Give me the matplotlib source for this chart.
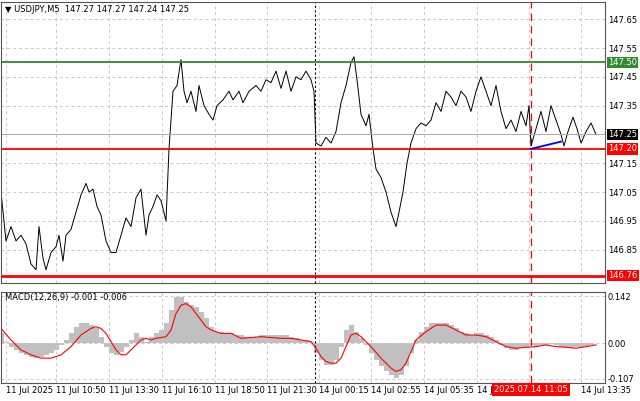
import matplotlib.pyplot as plt
import numpy as np

# x positions in chart pixels (M5 bars, ~1.65 px per bar)
price_x = [0, 5, 10, 15, 20, 25, 30, 35, 38, 42, 45, 50, 55, 58, 62, 65, 70, 75, 80, 85, 88, 92, 96, 100,
           105, 110, 115, 120, 125, 130, 135, 140, 145, 148, 152, 156, 160, 165, 168, 172, 176, 180, 183,
           186, 190, 195, 198, 203, 208, 212, 216, 222, 228, 232, 238, 242, 248, 255, 260, 265, 270, 275,
           280, 285, 290, 295, 300, 305, 310, 313, 315, 320, 325, 330, 335, 340, 345, 350, 353, 356, 360,
           365, 368, 372, 375, 380, 385, 390, 395, 398, 402, 406, 410, 415, 420, 425, 430, 435, 440, 445,
           450, 455, 460, 465, 470, 475, 480, 485, 490, 495, 500, 505, 510, 515, 520, 525, 528, 530, 535,
           540, 545, 550, 555, 560, 563, 567, 572, 576, 580, 585, 590, 595]
price = [147.05, 146.88, 146.93, 146.88, 146.90, 146.87, 146.80, 146.78, 146.93, 146.82, 146.78, 146.84,
         146.86, 146.90, 146.81, 146.90, 146.92, 146.98, 147.04, 147.08, 147.05, 147.06, 147.00, 146.97,
         146.88, 146.84, 146.84, 146.90, 146.96, 146.93, 147.03, 147.06, 146.90, 146.97, 147.00, 147.04,
         147.02, 146.95, 147.20, 147.40, 147.42, 147.51, 147.40, 147.36, 147.40, 147.33, 147.42, 147.35,
         147.32, 147.30, 147.35, 147.37, 147.40, 147.37, 147.40, 147.36, 147.40, 147.42, 147.40, 147.44,
         147.43, 147.47, 147.41, 147.47, 147.40, 147.45, 147.44, 147.47, 147.44, 147.40, 147.22, 147.21,
         147.24, 147.22, 147.26, 147.36, 147.42, 147.50, 147.52, 147.44, 147.32, 147.28, 147.32, 147.20,
         147.13, 147.10, 147.05, 146.98, 146.93, 146.98, 147.05, 147.15, 147.22, 147.27, 147.29, 147.28,
         147.30, 147.36, 147.33, 147.40, 147.38, 147.35, 147.40, 147.38, 147.33, 147.40, 147.45, 147.40,
         147.35, 147.42, 147.33, 147.27, 147.30, 147.26, 147.33, 147.28, 147.35, 147.21, 147.27, 147.33,
         147.26, 147.35, 147.30, 147.25, 147.21, 147.26, 147.31, 147.27, 147.22, 147.26, 147.29, 147.25]

hist_x = list(range(0, 600, 5))
hist = [0.03, 0.005, -0.01, -0.02, -0.03, -0.035, -0.04, -0.045, -0.04, -0.035, -0.03, -0.02, -0.005,
        0.01, 0.03, 0.05, 0.06, 0.06, 0.055, 0.045, 0.02, -0.01, -0.03, -0.035, -0.025, -0.01, 0.01, 0.03,
        0.02, 0.005, 0.02, 0.03, 0.04, 0.06, 0.10, 0.14, 0.14, 0.125, 0.115, 0.11, 0.095, 0.075, 0.05,
        0.035, 0.035, 0.03, 0.03, 0.025, 0.025, 0.02, 0.02, 0.02, 0.025, 0.025, 0.025, 0.025, 0.025, 0.025,
        0.02, 0.015, 0.01, 0.01, 0.005, -0.03, -0.05, -0.065, -0.065, -0.05, -0.01, 0.04, 0.055, 0.035,
        0.015, -0.005, -0.03, -0.05, -0.07, -0.085, -0.095, -0.105, -0.095, -0.07, -0.03, 0.01, 0.035,
        0.05, 0.06, 0.06, 0.06, 0.06, 0.055, 0.045, 0.035, 0.03, 0.025, 0.03, 0.03, 0.025, 0.02, 0.01,
        -0.005, -0.015, -0.02, -0.02, -0.015, -0.01, -0.005, -0.01, -0.005, -0.005, -0.003, -0.005, -0.01,
        -0.01, -0.015, -0.01, -0.01, -0.008, -0.005, 0.0]

signal_x = [0, 10, 20, 30, 40, 50, 60, 70, 80, 90, 95, 100, 105, 110, 115, 120, 125, 130, 140, 145, 150,
            155, 165, 170, 175, 180, 185, 190, 195, 200, 205, 210, 220, 230, 240, 260, 280, 290, 300, 310,
            315, 320, 325, 330, 335, 340, 345, 350, 355, 360, 370, 380, 390, 395, 400, 405, 410, 415, 425,
            435, 445, 455, 465, 475, 485, 495, 505, 515, 525, 535, 545, 555, 565, 575, 585, 595]
signal = [0.045, 0.01, -0.02, -0.035, -0.045, -0.045, -0.035, -0.01, 0.025, 0.045, 0.05, 0.045, 0.03,
          0.005, -0.02, -0.035, -0.035, -0.02, 0.01, 0.015, 0.01, 0.015, 0.02, 0.04, 0.09, 0.115, 0.12,
          0.11, 0.09, 0.07, 0.05, 0.04, 0.03, 0.03, 0.015, 0.02, 0.015, 0.015, 0.01, 0.005, -0.015, -0.04,
          -0.055, -0.06, -0.06, -0.045, -0.01, 0.025, 0.03, 0.02, -0.01, -0.045, -0.075, -0.085, -0.08,
          -0.06, -0.025, 0.01, 0.035, 0.055, 0.055, 0.04, 0.025, 0.025, 0.02, 0.005, -0.01, -0.015, -0.012,
          -0.01, -0.005, -0.01, -0.012, -0.015, -0.01, -0.005]

tick_x = [5, 55, 108, 161, 214, 266, 318, 370, 423, 476, 528, 580]
tick_labels = ["11 Jul 2025", "11 Jul 10:50", "11 Jul 13:30", "11 Jul 16:10", "11 Jul 18:50",
               "11 Jul 21:30", "14 Jul 00:15", "14 Jul 02:55", "14 Jul 05:35", "14 Jul",
               "5", "14 Jul 13:35"]
price_ticks = [147.65, 147.55, 147.45, 147.35, 147.15, 147.05, 146.95, 146.85]

W, H = 640, 401
fig = plt.figure(figsize=(6.4, 4.01), dpi=100)
ax = fig.add_axes([1 / W, 1 - 283 / H, 604 / W, 281 / H])
mx = fig.add_axes([1 / W, 1 - 383 / H, 604 / W, 91 / H])

for a in (ax, mx):
    a.set_xlim(0, 604)
    a.set_xticks(tick_x)
    a.grid(True, color="#c8c8c8", ls=(0, (3, 3)), lw=0.7)
    a.tick_params(labelsize=6, length=0, pad=2)
    a.yaxis.tick_right()
    for s in a.spines.values():
        s.set_color("#555555")
    a.axvline(314, color="black", ls=(0, (2, 2)), lw=0.8)
    a.axvline(530, color="red", ls=(0, (6, 4)), lw=0.9)

fs = 6
ax.set_ylim(146.734, 147.71)
ax.set_yticks(price_ticks)
ax.set_xticklabels([])
ax.plot(price_x, price, color="black", lw=0.7)
ax.axhline(147.50, color="#2e8b2e", lw=1.3)
ax.axhline(147.20, color="red", lw=1.3)
ax.axhline(146.76, color="red", lw=2)
ax.axhline(147.25, color="#aaaaaa", lw=0.7)
ax.plot([530, 560], [147.20, 147.225], color="blue", lw=1.3)
for val, fc in [(147.50, "#2e8b2e"), (147.20, "red"), (146.76, "red"), (147.25, "black")]:
    ax.text(607, val, f"{val:.2f}", fontsize=fs, color="white", va="center", ha="left", clip_on=False,
            bbox=dict(boxstyle="square,pad=0.15", fc=fc, ec="none"))
ax.text(4, 147.685, "\u25bc USDJPY,M5  147.27 147.27 147.24 147.25", fontsize=fs, va="center")

mx.set_ylim(-0.12, 0.155)
mx.set_yticks([0.142, 0.0, -0.107])
mx.set_yticklabels(["0.142", "0.00", "-0.107"])
mx.bar(hist_x, hist, width=5, color="#c0c0c0", lw=0)
mx.plot(signal_x, signal, color="red", lw=0.8)
mx.set_xticklabels(tick_labels)
for i, lbl in enumerate(mx.get_xticklabels()):
    lbl.set_ha("left")
mx.get_xticklabels()[10].set_x(553)
mx.text(530, -0.1265, "2025.07.14 11:05", fontsize=fs, color="white", ha="center", va="top",
        clip_on=False, zorder=10, bbox=dict(boxstyle="square,pad=0.2", fc="red", ec="none"))
mx.text(4, 0.138, "MACD(12,26,9) -0.001 -0.006", fontsize=fs, va="center")

fig.savefig("out.png", dpi=100)
